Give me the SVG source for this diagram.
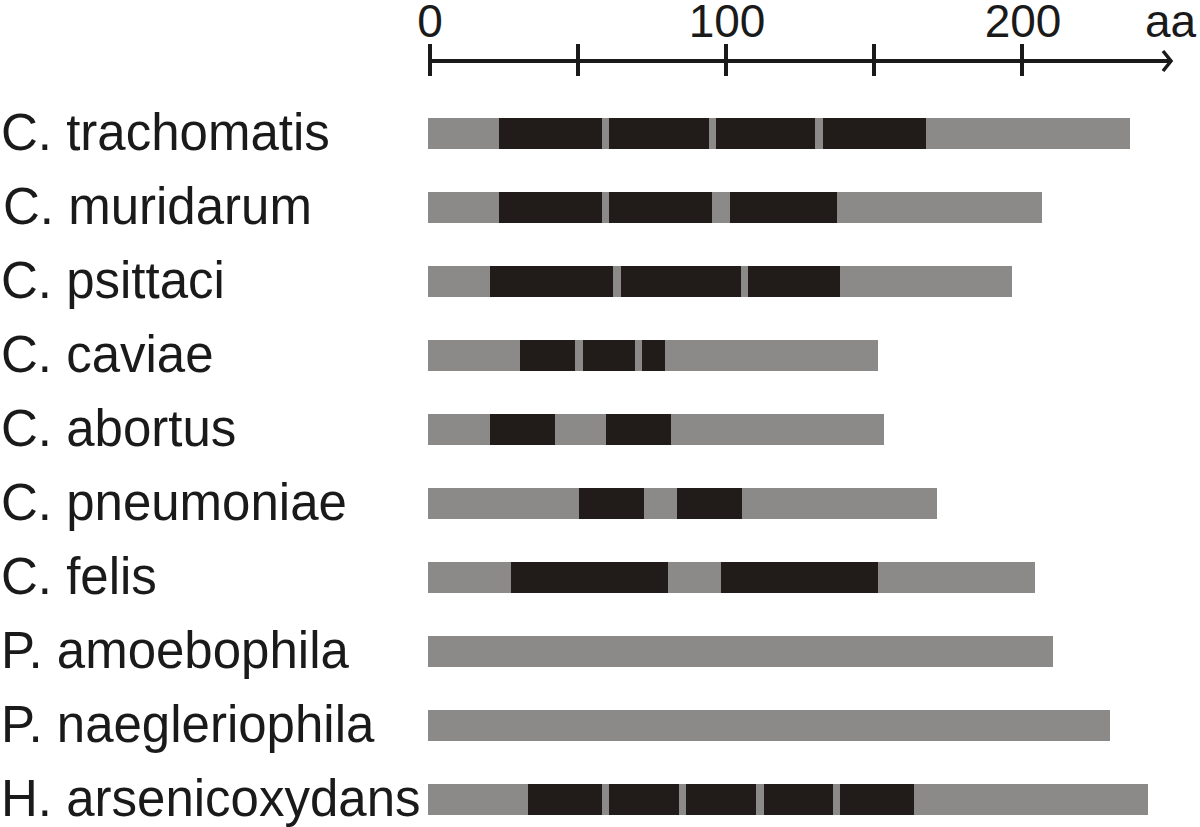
<svg xmlns="http://www.w3.org/2000/svg" width="1200" height="827" viewBox="0 0 1200 827">
<style>
.lbl{font-family:"Liberation Sans",Arial,sans-serif;font-size:51px;fill:#1a1a1a}
.ax{font-family:"Liberation Sans",Arial,sans-serif;font-size:46px;fill:#1a1a1a}
.g{fill:#8b8a88}
.b{fill:#211c1a}
.axl{stroke:#1a1a1a;stroke-width:4;fill:none}
</style>
<rect width="1200" height="827" fill="#ffffff"/>
<g id="axis">
<line class="axl" x1="429" y1="61" x2="1171" y2="61"/>
<line class="axl" x1="430" y1="44" x2="430" y2="76"/>
<line class="axl" x1="578" y1="44" x2="578" y2="76"/>
<line class="axl" x1="726" y1="44" x2="726" y2="76"/>
<line class="axl" x1="874" y1="44" x2="874" y2="76"/>
<line class="axl" x1="1022" y1="44" x2="1022" y2="76"/>
<polyline points="1163,51 1171,61 1163,71" fill="none" stroke="#1a1a1a" stroke-width="3.5"/>
<text class="ax" x="430" y="37" text-anchor="middle">0</text>
<text class="ax" x="727" y="37" text-anchor="middle">100</text>
<text class="ax" x="1023" y="37" text-anchor="middle">200</text>
<text class="ax" x="1145" y="37">aa</text>
</g>
<g id="row-trachomatis">
<text class="lbl" x="1" y="150">C. trachomatis</text>
<rect class="g" x="428" y="118" width="702" height="31"/>
<rect class="b" x="499" y="118" width="103" height="31"/>
<rect class="b" x="609" y="118" width="100" height="31"/>
<rect class="b" x="716" y="118" width="99" height="31"/>
<rect class="b" x="823" y="118" width="103" height="31"/>
</g>
<g id="row-muridarum">
<text class="lbl" x="3" y="224">C. muridarum</text>
<rect class="g" x="428" y="192" width="614" height="31"/>
<rect class="b" x="499" y="192" width="103" height="31"/>
<rect class="b" x="609" y="192" width="103" height="31"/>
<rect class="b" x="730" y="192" width="107" height="31"/>
</g>
<g id="row-psittaci">
<text class="lbl" x="1" y="298">C. psittaci</text>
<rect class="g" x="428" y="266" width="584" height="31"/>
<rect class="b" x="490" y="266" width="123" height="31"/>
<rect class="b" x="621" y="266" width="120" height="31"/>
<rect class="b" x="748" y="266" width="92" height="31"/>
</g>
<g id="row-caviae">
<text class="lbl" x="1" y="372">C. caviae</text>
<rect class="g" x="428" y="340" width="450" height="31"/>
<rect class="b" x="520" y="340" width="55" height="31"/>
<rect class="b" x="583" y="340" width="52" height="31"/>
<rect class="b" x="642" y="340" width="23" height="31"/>
</g>
<g id="row-abortus">
<text class="lbl" x="1" y="446">C. abortus</text>
<rect class="g" x="428" y="414" width="456" height="31"/>
<rect class="b" x="490" y="414" width="65" height="31"/>
<rect class="b" x="606" y="414" width="65" height="31"/>
</g>
<g id="row-pneumoniae">
<text class="lbl" x="1" y="520">C. pneumoniae</text>
<rect class="g" x="428" y="488" width="509" height="31"/>
<rect class="b" x="579" y="488" width="65" height="31"/>
<rect class="b" x="677" y="488" width="65" height="31"/>
</g>
<g id="row-felis">
<text class="lbl" x="1" y="594">C. felis</text>
<rect class="g" x="428" y="562" width="607" height="31"/>
<rect class="b" x="511" y="562" width="157" height="31"/>
<rect class="b" x="721" y="562" width="157" height="31"/>
</g>
<g id="row-amoebophila">
<text class="lbl" x="1" y="668">P. amoebophila</text>
<rect class="g" x="428" y="636" width="625" height="31"/>
</g>
<g id="row-naegleriophila">
<text class="lbl" x="1" y="742">P. naegleriophila</text>
<rect class="g" x="428" y="710" width="682" height="31"/>
</g>
<g id="row-arsenicoxydans">
<text class="lbl" x="1" y="816">H. arsenicoxydans</text>
<rect class="g" x="428" y="784" width="720" height="31"/>
<rect class="b" x="528" y="784" width="74" height="31"/>
<rect class="b" x="609" y="784" width="70" height="31"/>
<rect class="b" x="686" y="784" width="70" height="31"/>
<rect class="b" x="764" y="784" width="69" height="31"/>
<rect class="b" x="840" y="784" width="74" height="31"/>
</g>
</svg>
